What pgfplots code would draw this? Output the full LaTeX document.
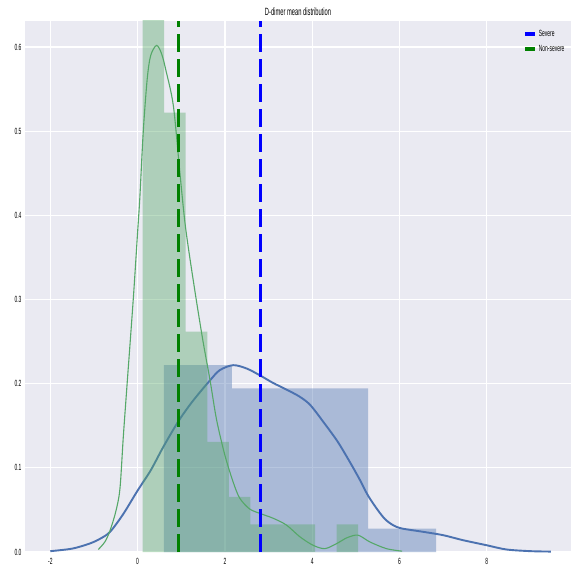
\documentclass[border=0pt]{standalone}
\usepackage{pgfplots}
\pgfplotsset{compat=1.18}
\usepackage{fontspec}
\setmainfont{Liberation Sans}
\newfontfamily\narrow[FakeStretch=0.55]{Liberation Sans}
\definecolor{sbblue}{HTML}{4C72B0}
\definecolor{sbgreen}{HTML}{55A868}
\definecolor{sbbg}{HTML}{EAEAF2}
\definecolor{mplgreen}{HTML}{008000}
\definecolor{mplblue}{HTML}{0000FF}
\begin{document}
\begin{tikzpicture}
\begin{axis}[
  scale only axis, width=546pt, height=531pt,
  xmin=-2.58, xmax=9.93, ymin=0, ymax=0.631,
  axis background/.style={fill=sbbg},
  axis line style={draw=none},
  major tick length=0pt,
  grid=major, major grid style={white, line width=1.3pt},
  xtick={-2,0,2,4,6,8}, ytick={0,0.1,0.2,0.3,0.4,0.5,0.6},
  tick label style={font=\narrow\fontsize{9}{10}\selectfont},
  /pgf/number format/assume math mode=true,
  yticklabel style={/pgf/number format/.cd, fixed, fixed zerofill, precision=1},
  xticklabel style={yshift=-3pt},
  every axis title shift=0pt,
  title={D-dimer mean distribution},
  title style={font=\narrow\fontsize{10.5}{12}\selectfont, at={(0.5,1)}, anchor=south, inner sep=0pt, yshift=5pt},
  legend style={at={(0.906,0.99)}, anchor=north west, draw=none, fill=none,
    font=\narrow\fontsize{9}{10}\selectfont, row sep=3pt},
  legend cell align=left,
  legend image code/.code={\draw[#1, solid, line width=4pt] (0pt,0pt) -- (10pt,0pt);},
]
% Severe histogram
\addplot[const plot, fill=sbblue, fill opacity=0.4, draw=none, forget plot] coordinates {
 (0.60,0.2222) (2.16,0.1945) (3.72,0.1945) (5.28,0.0278) (6.84,0)
} \closedcycle;
% Severe KDE
\addplot[sbblue, line width=1.9pt, smooth, forget plot] coordinates {
 (-2.0,0.001) (-1.5,0.004) (-1.1,0.010) (-0.85,0.016) (-0.63,0.024) (-0.33,0.045)
 (0.0,0.073) (0.3,0.097) (0.59,0.125) (0.93,0.155) (1.2,0.175) (1.43,0.190)
 (1.66,0.204) (1.88,0.216) (2.19,0.222) (2.5,0.218) (2.8,0.210) (3.1,0.201)
 (3.41,0.193) (3.7,0.185) (3.95,0.175) (4.25,0.155) (4.56,0.133) (4.75,0.117)
 (4.94,0.100) (5.1,0.085) (5.28,0.067) (5.5,0.050) (5.67,0.039) (5.85,0.032)
 (6.05,0.028) (6.54,0.024) (7.0,0.020) (7.46,0.014) (8.0,0.008) (8.45,0.003)
 (9.0,0.001) (9.47,0.0005)
};
% Non-severe histogram
\addplot[const plot, fill=sbgreen, fill opacity=0.4, draw=none, forget plot] coordinates {
 (0.115,0.915) (0.609,0.522) (1.103,0.262) (1.597,0.131) (2.091,0.0655)
 (2.585,0.0327) (3.079,0.0327) (3.573,0.0327) (4.067,0) (4.561,0.0327) (5.055,0)
} \closedcycle;
% Non-severe KDE
\addplot[sbgreen, line width=1.1pt, smooth, forget plot] coordinates {
 (-0.90,0.003) (-0.75,0.012) (-0.635,0.025) (-0.5,0.048) (-0.405,0.075) (-0.33,0.135)
 (-0.25,0.193) (-0.1,0.30) (0.0,0.38) (0.05,0.42) (0.13,0.50) (0.22,0.562)
 (0.3,0.59) (0.435,0.602) (0.55,0.592) (0.65,0.572) (0.82,0.53) (0.97,0.45)
 (1.1,0.385) (1.31,0.311) (1.5,0.25) (1.66,0.204) (1.81,0.157) (2.0,0.115)
 (2.19,0.083) (2.34,0.064) (2.57,0.051) (2.85,0.045) (3.11,0.040) (3.41,0.032)
 (3.72,0.018) (4.02,0.008) (4.29,0.004) (4.56,0.010) (4.8,0.017) (5.05,0.020)
 (5.32,0.012) (5.7,0.004) (6.06,0.001)
};
% Mean lines
\addplot[mplblue, line width=2.7pt, dash pattern=on 18pt off 7pt] coordinates {(2.81,0) (2.81,0.631)};
\addlegendentry{Severe}
\addplot[mplgreen, line width=2.7pt, dash pattern=on 18pt off 7pt] coordinates {(0.93,0) (0.93,0.631)};
\addlegendentry{Non-severe}
\end{axis}
\pgfresetboundingbox
\path[use as bounding box] ([xshift=-25pt,yshift=-20pt]current axis.south west) rectangle ([yshift=21pt]current axis.north east);
\end{tikzpicture}
\end{document}
